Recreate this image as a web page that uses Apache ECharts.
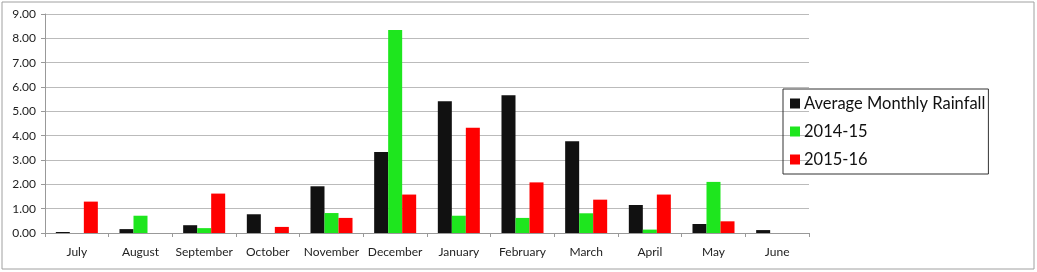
<!DOCTYPE html>
<html>
<head>
<meta charset="utf-8">
<script src="https://cdn.jsdelivr.net/npm/echarts@6/dist/echarts.min.js"></script>
<style>html,body{margin:0;padding:0;background:#fff;}#c{width:1037px;height:272px;}</style>
</head>
<body>
<div id="c"></div>
<script>
const categories = ['July','August','September','October','November','December','January','February','March','April','May','June'];
const avgRainfall = [0.04,0.16,0.32,0.77,1.92,3.33,5.41,5.66,3.77,1.15,0.37,0.12];
const rain1415 = [0,0.71,0.2,0,0.82,8.34,0.71,0.62,0.81,0.14,2.10,0];
const rain1516 = [1.29,0,1.62,0.25,0.62,1.58,4.33,2.08,1.37,1.58,0.48,0];
const yTicks = {min:0,max:9,interval:1};

const chart = echarts.init(document.getElementById('c'), null, {renderer:'canvas'});
const font = 'Lato';
chart.setOption({
  animation:false,
  textStyle:{fontFamily:font},
  graphic:[{type:'rect',shape:{x:2,y:2,width:1032,height:267},style:{fill:'none',stroke:'#a0a0a0',lineWidth:1},z:-1}],
  grid:{left:45,right:228,top:14,bottom:39},
  legend:{
    orient:'vertical',left:783,top:89,
    itemWidth:10,itemHeight:10,itemGap:11,
    borderColor:'#333',borderWidth:1,padding:[6,3,6,7],
    textStyle:{fontFamily:font,fontSize:16.5,color:'#111',padding:[0,0,0,-1]},
    icon:'rect',
    data:['Average Monthly Rainfall','2014-15','2015-16']
  },
  xAxis:{
    type:'category',data:categories,
    axisLine:{lineStyle:{color:'#999'}},
    axisTick:{show:true,length:4,lineStyle:{color:'#999'}},
    axisLabel:{fontFamily:font,fontSize:12,color:'#222',margin:13,interval:0}
  },
  yAxis:{
    type:'value',min:yTicks.min,max:yTicks.max,interval:yTicks.interval,
    axisLine:{show:true,lineStyle:{color:'#999'}},
    axisTick:{show:true,length:4,lineStyle:{color:'#999'}},
    splitLine:{lineStyle:{color:'#bbb'}},
    axisLabel:{fontFamily:font,fontSize:12,color:'#222',margin:9,formatter:v=>v.toFixed(2)}
  },
  series:[
    {name:'Average Monthly Rainfall',type:'bar',data:avgRainfall,barGap:'0%',barCategoryGap:'34%',itemStyle:{color:'#111111'}},
    {name:'2014-15',type:'bar',data:rain1415,barGap:'0%',barCategoryGap:'34%',itemStyle:{color:'#1ee61e'}},
    {name:'2015-16',type:'bar',data:rain1516,barGap:'0%',barCategoryGap:'34%',itemStyle:{color:'#ff0000'}}
  ]
});
</script>
</body>
</html>
